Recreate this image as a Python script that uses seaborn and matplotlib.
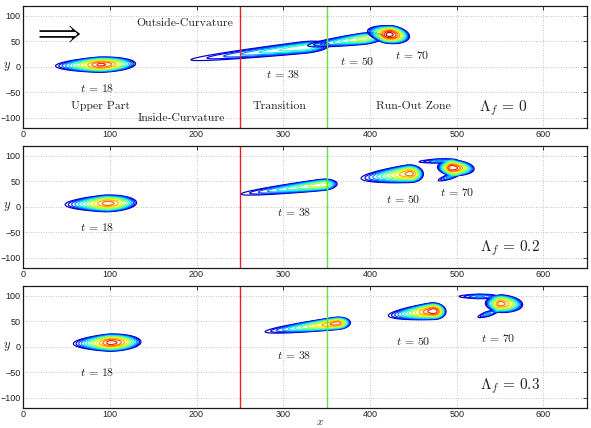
import numpy as np
import matplotlib
matplotlib.use("Agg")
import matplotlib.pyplot as plt
import seaborn as sns

# ---------------- data ----------------
panel_lambda = ["0", "0.2", "0.3"]
snap_times = [18, 38, 50, 70]

# blob components (one snapshot may consist of several components)
comp_panel = [0, 0, 0, 0, 1, 1, 1, 1, 1, 1, 2, 2, 2, 2, 2, 2]
comp_time = [18, 38, 50, 70, 18, 38, 50, 70, 70, 70, 18, 38, 50, 70, 70, 70]
comp_x = [88, 325, 392, 421, 96, 345, 446, 493, 478, 490, 100, 362, 473, 549, 525, 535]
comp_y = [4, 38, 55, 64, 6.5, 43, 65, 77, 90, 58, 8, 46, 70, 85, 99, 64]
comp_amp = [0.9, 0.5, 0.62, 1.0, 0.85, 0.65, 0.85, 0.95, 0.3, 0.3, 0.92, 0.85, 0.95, 0.85, 0.3, 0.3]
comp_rear = [53, 146, 70, 26, 50, 102, 60, 16, 25, 15, 44, 89, 55, 17, 26, 14]
comp_front = [43, 30, 25, 26, 36, 18, 16, 28, 25, 18, 37, 16, 15, 28, 25, 16]
comp_width = [15.5, 12, 11.5, 18, 17, 11.5, 18, 16, 4.5, 5, 17.5, 12.5, 17, 18, 5, 5]
comp_angle = [3, 10.5, 12, -20, 3, 11, 9.6, -8, 4, 30, 3, 11.4, 10, -8, 0, 30]

contour_levels = [0.05, 0.125, 0.2, 0.275, 0.35, 0.425, 0.5, 0.575, 0.65, 0.725, 0.8, 0.875, 0.95]

zone_bounds = [250, 350]
zone_names = ["Upper Part", "Transition", "Run-Out Zone"]
side_names = ["Outside-Curvature", "Inside-Curvature"]

# ---------------- layout (annotation positions) ----------------
t_label_pos = {
    0: [(85, -44), (300, -16), (385, 10), (449, 21)],
    1: [(85, -42), (312, -13), (438, 13), (501, 27)],
    2: [(85, -52), (312, -18), (450, 10), (548, 16)],
}
lambda_pos = [(554, -81), (561, -82), (561, -78)]
zone_pos = [(89, -78), (296, -78), (450, -78)]
side_pos = [(187, 85), (182, -101)]

# ---------------- style ----------------
sns.set_theme(style="white", rc={
    "xtick.direction": "in", "ytick.direction": "in",
    "xtick.top": True, "ytick.right": True,
    "xtick.major.size": 3, "ytick.major.size": 3,
    "xtick.major.width": 0.6, "ytick.major.width": 0.6,
    "axes.edgecolor": "#1a1a1a", "axes.linewidth": 0.9,
})
plt.rcParams["font.family"] = ["Liberation Sans", "DejaVu Sans"]
plt.rcParams["mathtext.fontset"] = "cm"

fig = plt.figure(figsize=(5.91, 4.28), dpi=100)
left, width, height = 0.039, 0.954, 0.285
bottoms = [0.7016, 0.3745, 0.0474]

xg = np.linspace(0, 650, 1301)
yg = np.linspace(-120, 120, 481)
X, Y = np.meshgrid(xg, yg)


def component_field(i):
    th = np.deg2rad(comp_angle[i])
    dx, dy = X - comp_x[i], Y - comp_y[i]
    s = dx * np.cos(th) + dy * np.sin(th)
    n = -dx * np.sin(th) + dy * np.cos(th)
    q = np.where(s < 0, (np.abs(s) / comp_rear[i]) ** 1.2, (s / comp_front[i]) ** 2)
    q = q + (n / comp_width[i]) ** 2
    return comp_amp[i] * np.clip(1 - q, 0, None)


serif = "cmr10"
axes = []
for p in range(3):
    ax = fig.add_axes([left, bottoms[p], width, height])
    axes.append(ax)
    ax.set_xlim(0, 650)
    ax.set_ylim(-120, 120)
    ax.set_xticks([0, 100, 200, 300, 400, 500, 600])
    ax.set_yticks([-100, -50, 0, 50, 100])
    ax.grid(True, linestyle=(0, (1, 2)), color="#b0b0b0", linewidth=0.6)
    ax.tick_params(labelsize=6.5, colors="#222222", pad=2)
    ax.set_axisbelow(True)

    for t in snap_times:
        idx = [i for i in range(len(comp_panel)) if comp_panel[i] == p and comp_time[i] == t]
        F = sum(component_field(i) for i in idx)
        ax.contour(X, Y, F, levels=contour_levels, cmap="jet", vmin=0, vmax=1,
                   linewidths=0.85)

    ax.axvline(zone_bounds[0], color="#ee2222", lw=1.0)
    ax.axvline(zone_bounds[1], color="#66e040", lw=1.0)

    for k, t in enumerate(snap_times):
        tx, ty = t_label_pos[p][k]
        ax.text(tx, ty, r"$t\,=\,%d$" % t, ha="center", va="center",
                fontsize=8.5, color="#222222")
    lx, ly = lambda_pos[p]
    ax.text(lx, ly, r"$\Lambda_f\,=\,%s$" % panel_lambda[p], ha="center",
            va="center", fontsize=11, color="#222222")

    ax.set_ylabel(r"$y$", rotation=0, fontsize=9, va="center", ha="center")
    ax.yaxis.set_label_coords(-0.028, 0.5)

    if p == 0:
        for name, (zx, zy) in zip(zone_names, zone_pos):
            ax.text(zx, zy, name, family=serif, fontsize=8.5, ha="center",
                    va="center", color="#222222")
        for name, (sx, sy) in zip(side_names, side_pos):
            ax.text(sx, sy, name, family=serif, fontsize=8.5, ha="center",
                    va="center", color="#222222")
        ax.text(40, 66, r"$\Longrightarrow$", fontsize=20, ha="center",
                va="center", color="#111111")

fig.text(0.542, 0.003, r"$x$", fontsize=8, ha="center", va="bottom",
         color="#222222")

fig.savefig("out.png", dpi=100)
